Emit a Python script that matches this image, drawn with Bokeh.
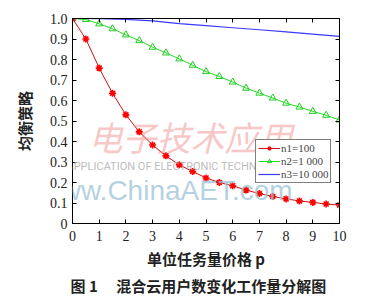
from bokeh.plotting import figure
from bokeh.models import (Legend, LegendItem, FixedTicker, LinearAxis, Range1d,
                          CustomLabelingPolicy, Title, Label)
from bokeh.embed import file_html
from bokeh.resources import INLINE

# ---- data ----
p_vals = [0, 0.5, 1, 1.5, 2, 2.5, 3, 3.5, 4, 4.5, 5, 5.5, 6, 6.5, 7, 7.5, 8, 8.5, 9, 9.5, 10]
n1_vals = [1.0, 0.90, 0.758, 0.635, 0.53, 0.447, 0.383, 0.33, 0.286, 0.254, 0.222, 0.200,
           0.184, 0.163, 0.146, 0.132, 0.120, 0.110, 0.103, 0.095, 0.090]
n2_vals = [1.0, 0.995, 0.974, 0.950, 0.920, 0.892, 0.860, 0.832, 0.803, 0.772, 0.741, 0.717,
           0.690, 0.660, 0.636, 0.612, 0.587, 0.568, 0.547, 0.528, 0.505]
p3_vals = [0, 1, 2, 3, 4, 5, 6, 7, 8, 9, 10]
n3_vals = [1.0, 0.999, 0.996, 0.988, 0.975, 0.965, 0.955, 0.945, 0.935, 0.924, 0.913]
series_names = ["n1=100", "n2=1 000", "n3=10 000"]
x_ticks = [0, 1, 2, 3, 4, 5, 6, 7, 8, 9, 10]
y_ticks = [0, 0.1, 0.2, 0.3, 0.4, 0.5, 0.6, 0.7, 0.8, 0.9, 1.0]
x_title = "单位任务量价格 p"
y_title = "均衡策略"
caption = "图 1　 混合云用户数变化工作量分解图"
wm_cn = "电子技术应用"
wm_en = "APPLICATION OF ELECTRONIC TECHNIQUE"
wm_url = "www.ChinaAET.com"

SERIF = "Liberation Serif"
CJK = "Noto Sans CJK SC"

p = figure(width=375, height=300, output_backend="svg", toolbar_location=None,
           x_range=Range1d(0, 10), y_range=Range1d(0, 1),
           min_border_left=72, min_border_right=36, min_border_top=17, min_border_bottom=77,
           x_axis_location=None, y_axis_location=None)
p.grid.visible = False
p.outline_line_color = "black"
p.outline_line_width = 1
p.background_fill_color = "white"
p.border_fill_color = "white"

no_labels = CustomLabelingPolicy(code="""
for (let i = 0; i < indices.size; i++) { indices.unset(i) }
return indices
""")

def mk_axis(ticks, show_labels):
    ax = LinearAxis(ticker=FixedTicker(ticks=ticks))
    ax.major_tick_in = 4
    ax.major_tick_out = 0
    ax.minor_tick_in = 0
    ax.minor_tick_out = 0
    ax.axis_line_color = "black"
    ax.major_tick_line_color = "black"
    ax.major_label_text_font = SERIF
    ax.major_label_text_font_size = "14px"
    ax.major_label_text_color = "#222222"
    ax.axis_label_text_font = CJK
    ax.axis_label_text_font_size = "15px"
    ax.axis_label_text_font_style = "bold"
    ax.axis_label_text_color = "#222222"
    if not show_labels:
        ax.major_label_policy = no_labels
    return ax

xb = mk_axis(x_ticks, True)
xb.major_label_standoff = 7
xb.axis_label = x_title
xb.axis_label_standoff = 4
xt = mk_axis(x_ticks, False)
yl = mk_axis(y_ticks, True)
yl.major_label_standoff = 5
yl.major_label_overrides = {0: "0", 1: "1.0"}
yl.axis_label = y_title
yl.axis_label_standoff = 12
yr = mk_axis(y_ticks, False)
p.add_layout(xb, "below")
p.add_layout(xt, "above")
p.add_layout(yl, "left")
p.add_layout(yr, "right")

cap = Title(text=caption, align="left", offset=-2, standoff=2,
            text_font=CJK, text_font_size="15px", text_font_style="bold",
            text_color="#222222")
p.add_layout(cap, "below")


def clabel(x, y, text, **kw):
    lab = Label(x=x, y=y, x_units="canvas", y_units="canvas", text=text, **kw)
    p.add_layout(lab)
    return lab

# ---- watermark ----
clabel(88, 136, wm_cn, text_font=CJK, text_font_size="34px", text_color="#f08080",
       text_alpha=0.45, text_font_style="italic", text_baseline="middle")
clabel(66, 166, wm_en, text_font="Roboto", text_font_size="11px", text_color="#aaaaaa",
       text_alpha=0.8, text_baseline="middle")
clabel(40, 190, wm_url, text_font="Liberation Sans", text_font_size="28px",
       text_color="#9cc2d6", text_alpha=0.75, text_baseline="middle")

# ---- series ----
l3 = p.line(p3_vals, n3_vals, line_color="#3a3aff", line_width=1.2)
l2 = p.line(p_vals, n2_vals, line_color="#22dd22", line_width=1)
m2 = p.scatter(p_vals, n2_vals, marker="triangle", size=7, fill_color=None,
               line_color="#22cc22", line_width=1)
l1 = p.line(p_vals, n1_vals, line_color="#cc1111", line_width=1)
m1 = p.scatter(p_vals, n1_vals, marker="asterisk", size=7, line_color="#ff0000", line_width=1.6)

legend = Legend(items=[
    LegendItem(label=series_names[0], renderers=[l1, m1]),
    LegendItem(label=series_names[1], renderers=[l2, m2]),
    LegendItem(label=series_names[2], renderers=[l3]),
], location=(183, 40))
legend.label_text_font = SERIF
legend.label_text_font_size = "11px"
legend.label_height = 10
legend.glyph_height = 10
legend.glyph_width = 22
legend.label_standoff = 1
legend.spacing = 1
legend.padding = 2
legend.margin = 0
legend.border_line_color = "black"
legend.border_line_width = 1
legend.background_fill_alpha = 1
p.add_layout(legend, "center")

open("out.html", "w").write(file_html(p, INLINE))
